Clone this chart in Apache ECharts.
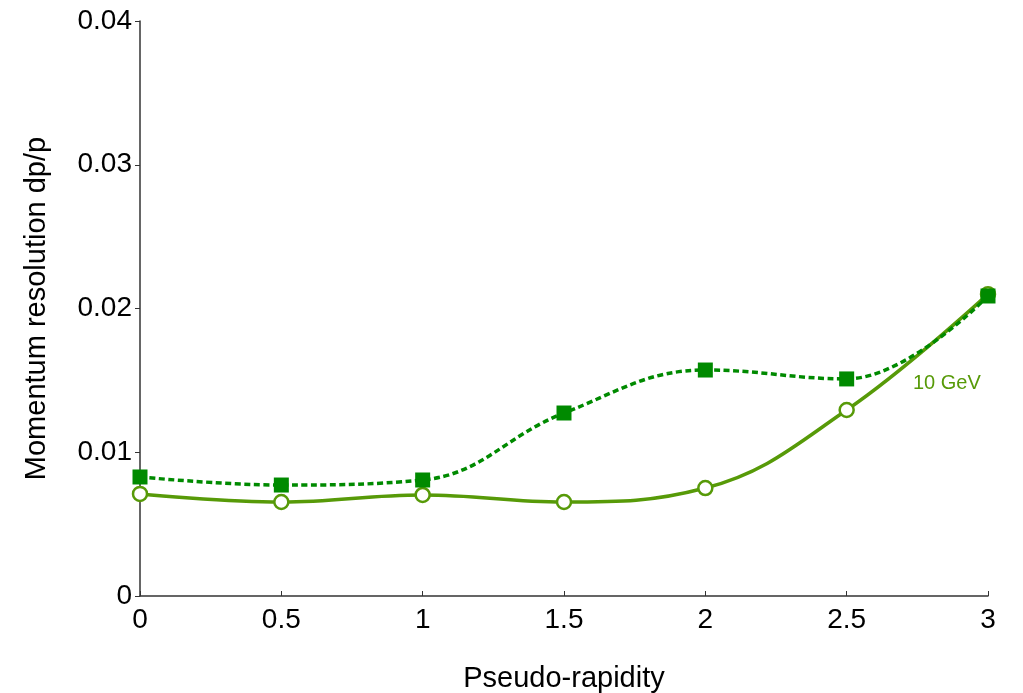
<!DOCTYPE html>
<html>
<head>
<meta charset="utf-8">
<script src="https://cdn.jsdelivr.net/npm/echarts@6/dist/echarts.min.js"></script>
<style>html,body{margin:0;padding:0;background:#fff}#c{width:1023px;height:693px}</style>
</head>
<body>
<div id="c"></div>
<script>
const etaValues = [0, 0.5, 1, 1.5, 2, 2.5, 3];
const dashedSquares = [0.00828, 0.00772, 0.00807, 0.01273, 0.01572, 0.01510, 0.02087];
const solidCircles = [0.00710, 0.00654, 0.00703, 0.00654, 0.00751, 0.01294, 0.02100];
const seriesLabel = '10 GeV';
const xTitle = 'Pseudo-rapidity';
const yTitle = 'Momentum resolution dp/p';

const FONT = '"Liberation Sans", Helvetica, Arial, sans-serif';
const pair = (xs, ys) => xs.map((x, i) => [x, ys[i]]);

const chart = echarts.init(document.getElementById('c'), null, {renderer: 'canvas'});
chart.setOption({
  animation: false,
  backgroundColor: '#ffffff',
  grid: {left: 140, right: 35, top: 21, bottom: 97, containLabel: false, outerBoundsMode: 'none'},
  xAxis: {
    type: 'value', min: 0, max: 3, interval: 0.5,
    name: xTitle, nameLocation: 'middle', nameGap: 68,
    nameTextStyle: {fontFamily: FONT, fontSize: 29, color: '#000'},
    axisLine: {show: true, onZero: false, lineStyle: {color: '#333', width: 1.5}},
    axisTick: {show: true, inside: true, length: 5, lineStyle: {color: '#333'}},
    axisLabel: {fontFamily: FONT, fontSize: 28, color: '#000', margin: 10},
    splitLine: {show: false}
  },
  yAxis: {
    type: 'value', min: 0, max: 0.04, interval: 0.01,
    name: yTitle, nameLocation: 'middle', nameGap: 89, nameRotate: 90,
    nameTextStyle: {fontFamily: FONT, fontSize: 29, color: '#000'},
    axisLine: {show: true, onZero: false, lineStyle: {color: '#333', width: 1.5}},
    axisTick: {show: true, inside: false, length: 5, lineStyle: {color: '#333'}},
    axisLabel: {fontFamily: FONT, fontSize: 28, color: '#000', margin: 8},
    splitLine: {show: false}
  },
  series: [
    {
      type: 'line', data: pair(etaValues, solidCircles), smooth: 0.4,
      symbol: 'circle', symbolSize: 14,
      lineStyle: {color: '#579a08', width: 3.5},
      itemStyle: {color: '#ffffff', borderColor: '#579a08', borderWidth: 2.5},
      z: 2
    },
    {
      type: 'line', data: pair(etaValues, dashedSquares), smooth: 0.4,
      symbol: 'rect', symbolSize: 15,
      lineStyle: {color: '#008a00', width: 3.5, type: [6, 3.5]},
      itemStyle: {color: '#008a00', borderWidth: 0},
      z: 3
    }
  ],
  graphic: [{
    type: 'text', left: 913, top: 373,
    style: {text: seriesLabel, fontFamily: FONT, fontSize: 20, fill: '#579a08'}
  }]
});
</script>
</body>
</html>
